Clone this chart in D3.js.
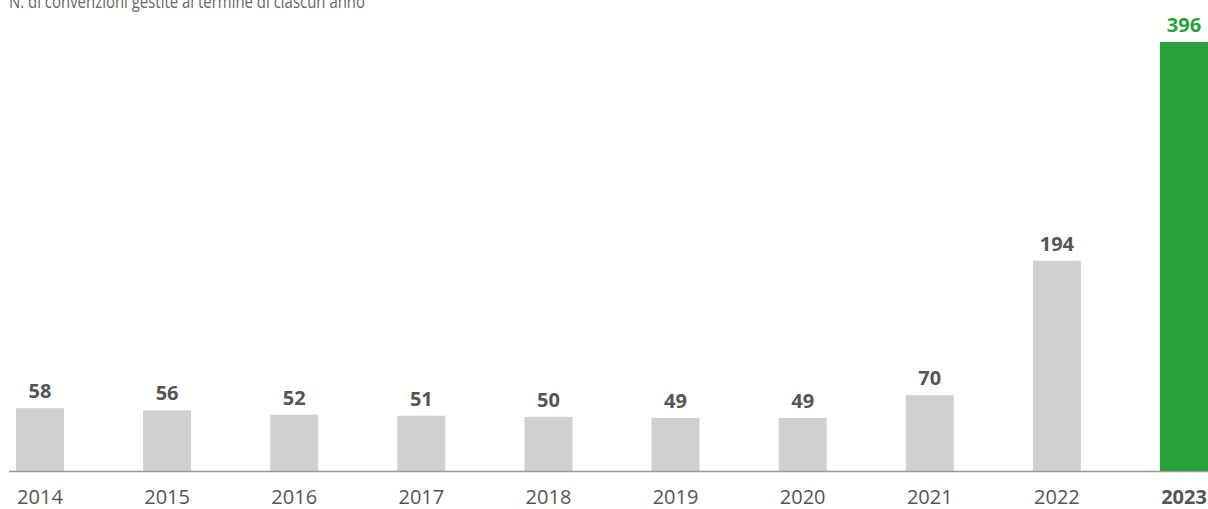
<!DOCTYPE html>
<html>
<head>
<meta charset="utf-8">
<script src="https://cdn.jsdelivr.net/npm/d3@7"></script>
<style>
  body { margin: 0; background: #fff; }
  text { font-family: "Open Sans", sans-serif; }
</style>
</head>
<body>
<div id="chart"></div>
<script>
var svgWidth = 1208;
var svgHeight = 509;

// data
var years = ["2014", "2015", "2016", "2017", "2018", "2019", "2020", "2021", "2022", "2023"];
var values = [58, 56, 52, 51, 50, 49, 49, 70, 194, 396];
var title = "N. di convenzioni gestite al termine di ciascun anno";

var baseline = 471;

var svg = d3.select("#chart")
    .append("svg")
    .attr("width", svgWidth)
    .attr("height", svgHeight);

// x scale: bars 48px wide, first starts at 16, last ends at right edge
var xScale = d3.scaleBand()
    .domain(years)
    .range([16, svgWidth])
    .paddingInner(0.6224)
    .paddingOuter(0);

var yScale = d3.scaleLinear()
    .domain([0, 396])
    .range([baseline, 42]);

// title (partly cut off at top, as in the original)
svg.append("text")
    .attr("x", 9)
    .attr("y", 8)
    .attr("font-size", "18px")
    .attr("fill", "#666")
    .attr("textLength", 356)
    .attr("lengthAdjust", "spacingAndGlyphs")
    .text(title);

// bars
svg.append("g")
    .selectAll("rect")
    .data(values)
    .enter()
    .append("rect")
    .attr("x", (d, i) => xScale(years[i]))
    .attr("y", d => yScale(d))
    .attr("width", xScale.bandwidth())
    .attr("height", d => baseline - yScale(d))
    .attr("fill", (d, i) => i === years.length - 1 ? "#28a13b" : "#d0d0d0");

// baseline
svg.append("line")
    .attr("x1", 9)
    .attr("x2", svgWidth)
    .attr("y1", baseline + 0.5)
    .attr("y2", baseline + 0.5)
    .attr("stroke", "#999")
    .attr("stroke-width", 1.5);

// value labels
svg.append("g")
    .selectAll("text")
    .data(values)
    .enter()
    .append("text")
    .attr("x", (d, i) => xScale(years[i]) + xScale.bandwidth() / 2)
    .attr("y", d => yScale(d) - 10)
    .attr("text-anchor", "middle")
    .attr("font-size", "20px")
    .attr("font-weight", "bold")
    .attr("fill", (d, i) => i === years.length - 1 ? "#28a13b" : "#555")
    .text(d => d);

// x axis labels
var xAxis = svg.append("g")
    .attr("transform", `translate(0, ${baseline})`)
    .call(d3.axisBottom(xScale).tickSize(0).tickPadding(19));

xAxis.select(".domain").remove();
xAxis.selectAll("text")
    .attr("font-size", "20px")
    .attr("font-family", "Open Sans, sans-serif")
    .attr("fill", "#555")
    .attr("font-weight", d => d === "2023" ? "bold" : "normal");
</script>
</body>
</html>
